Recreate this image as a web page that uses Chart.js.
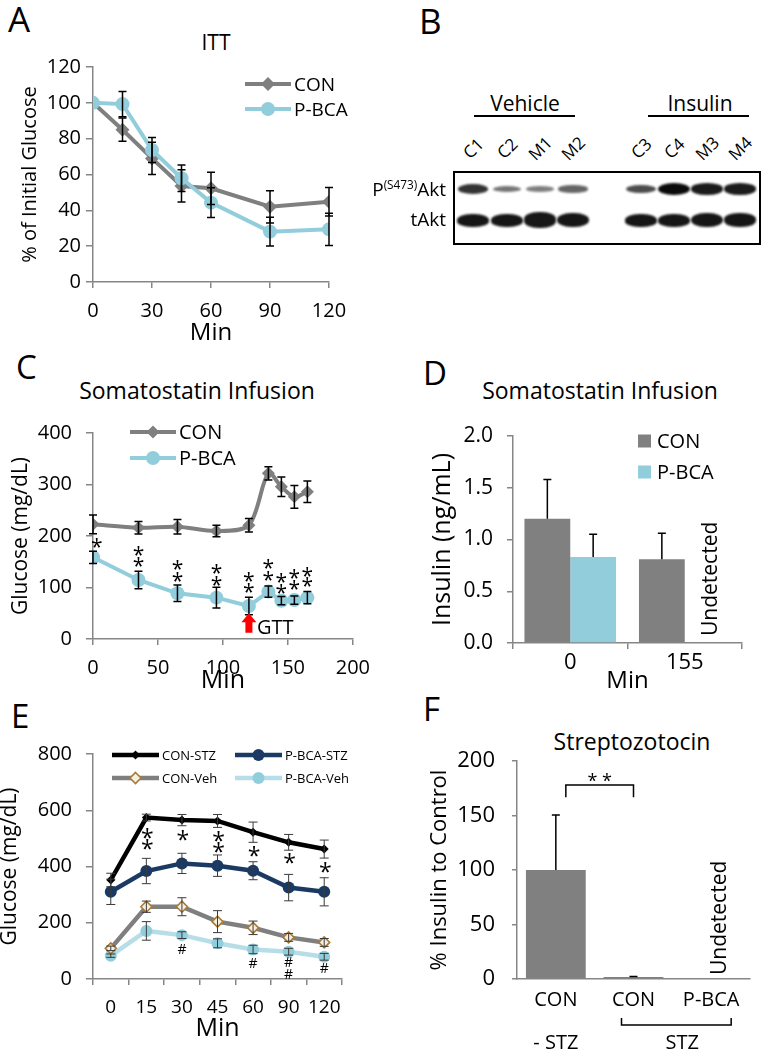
<!DOCTYPE html>
<html>
<head>
<meta charset="utf-8">
<title>ITT, Akt blot, somatostatin and streptozotocin panels</title>
<script src="https://cdn.jsdelivr.net/npm/chart.js@4.4.1/dist/chart.umd.min.js"></script>
<style>
  html, body { margin: 0; padding: 0; background: #fff; }
  body { position: relative; width: 762px; height: 1050px; overflow: hidden; font-family: 'Open Sans', sans-serif; color: #000; }
  canvas { position: absolute; }
  .lbl { position: absolute; white-space: nowrap; line-height: 1; }
  .lbl sup { font-size: 0.62em; vertical-align: 0.55em; }
  .blot { position: absolute; left: 453px; top: 171px; width: 304px; height: 70px; border: 2px solid #000; }
  .band { position: absolute; border-radius: 50%; filter: blur(1.2px); }
  .rule { position: absolute; height: 2px; background: #000; }
</style>
</head>
<body>
<script>
// ---- A: ITT ----
const ittMin = [0, 15, 30, 45, 60, 90, 120];
const ittCon = [100, 85, 69, 53.6, 52.3, 42, 44.8];
const ittConErr = [0, 6.5, 9, 9, 9, 9, 8];
const ittPbca = [100, 99.3, 73.7, 57.9, 44.3, 28.1, 29.4];
const ittPbcaErr = [0, 7, 7, 7.4, 8.3, 8, 9];

// ---- B: western blot ----
const lanes = ['C1', 'C2', 'M1', 'M2', 'C3', 'C4', 'M3', 'M4'];
const pAkt = [0.75, 0.35, 0.3, 0.45, 0.6, 1, 0.9, 0.9];
const tAkt = [1, 1, 1.2, 1.1, 1, 1, 1.15, 1.05];

// ---- C: somatostatin infusion, glucose ----
const ssMin = [0, 35, 65, 95, 120, 135, 145, 155, 165];
const ssCon = [222.6, 216, 218, 209.7, 221, 321.7, 295.8, 276, 286];
const ssConErr = [18, 12, 14, 11, 13, 13, 19, 22, 21];
const ssPbca = [158.6, 114.6, 88.7, 80.3, 64, 92, 74.4, 75.7, 80.3];
const ssPbcaErr = [12, 17, 16, 20, 17, 11, 8, 8, 12];
const ssStarMin = [3, 35, 65, 95, 120, 135, 145, 155, 165];
const ssStarY = [[186], [171, 150], [144, 121], [136, 113], [121, 100], [145, 123], [118, 97], [126, 104], [131, 110]];
const gttMin = 120;
const gttArrow = [12, 50];

// ---- D: somatostatin infusion, insulin ----
const insMin = ['0', '155'];
const insCon = [1.2, 0.81];
const insConErr = [0.38, 0.25];
const insPbca = [0.83, null];
const insPbcaErr = [0.22, null];

// ---- E: STZ glucose ----
const stzMin = ['0', '15', '30', '45', '60', '90', '120'];
const conStz = [352, 574, 565, 562, 522, 486, 462];
const conStzErr = [24, 12, 20, 23, 36, 28, 32];
const pbcaStz = [310, 384, 411, 403, 385, 325, 310];
const pbcaStzErr = [45, 45, 36, 38, 32, 47, 50];
const conVeh = [109, 257, 257, 204, 182, 148, 130];
const conVehErr = [8, 20, 32, 39, 24, 14, 14];
const pbcaVeh = [83, 171, 156, 127, 105, 97, 79];
const pbcaVehErr = [6, 33, 12, 16, 15, 12, 12];
const stzStarIdx = [1, 2, 3, 4, 5, 6];
const stzStarY = [[518, 479], [510], [506, 467], [453], [427], [396]];
const stzHashIdx = [2, 4, 5, 6];
const stzHashY = [[107], [56], [62, 17], [38]];

// ---- F: streptozotocin insulin ----
const stzGroups = ['CON', 'CON', 'P-BCA'];
const stzInsulin = [100, 1.8, null];
const stzInsulinErr = [50.5, 0.6, null];
const sigBracket = [166.7, 178];

// ---- styles ----
const AX = '#868686';
const GRAY = '#7f7f7f';
const AQUA = '#92cddc';
const NAVY = '#1b3a63';
const PALE = '#b7dee8';
Chart.defaults.font.family = "'Open Sans', sans-serif";
Chart.defaults.color = '#000';

function label(html, x, y, size, align, rotate) {
  const d = document.createElement('div');
  d.className = 'lbl';
  d.innerHTML = html;
  d.style.fontSize = size + 'px';
  d.style.left = x + 'px';
  d.style.top = y + 'px';
  const tx = align === 'left' ? '0' : align === 'right' ? '-100%' : '-50%';
  d.style.transform = `translate(${tx}, -50%)` + (rotate ? ` rotate(${rotate}deg)` : '');
  document.body.appendChild(d);
  return d;
}

function ctext(ctx, text, x, y, size, align) {
  ctx.save();
  ctx.font = size + "px 'Open Sans', sans-serif";
  ctx.fillStyle = '#000';
  ctx.textAlign = align || 'center';
  ctx.textBaseline = 'alphabetic';
  const m = ctx.measureText(text);
  ctx.fillText(text, x, y + (m.actualBoundingBoxAscent - m.actualBoundingBoxDescent) / 2);
  ctx.restore();
}

function rtext(ctx, text, x, yBottom, size) {
  ctx.save();
  ctx.translate(x, yBottom);
  ctx.rotate(-Math.PI / 2);
  ctext(ctx, text, 0, 0, size, 'left');
  ctx.restore();
}

function marker(ctx, style, x, y, r, fill, stroke, lw) {
  ctx.beginPath();
  if (style === 'circle') {
    ctx.arc(x, y, r, 0, Math.PI * 2);
  } else {
    ctx.moveTo(x, y - r); ctx.lineTo(x + r, y); ctx.lineTo(x, y + r); ctx.lineTo(x - r, y); ctx.closePath();
  }
  ctx.fillStyle = fill;
  ctx.fill();
  if (lw) { ctx.strokeStyle = stroke; ctx.lineWidth = lw; ctx.stroke(); }
}

function lineKey(ctx, ds, pos, len, text, size) {
  const [x, y] = pos;
  ctx.save();
  ctx.strokeStyle = ds.borderColor;
  ctx.lineWidth = ds.borderWidth;
  ctx.beginPath(); ctx.moveTo(x, y); ctx.lineTo(x + len, y); ctx.stroke();
  marker(ctx, ds.pointStyle, x + len / 2, y, ds.pointRadius, ds.pointBackgroundColor, ds.pointBorderColor, ds.pointBorderWidth);
  ctx.restore();
  ctext(ctx, text, x + len + 3, y, size, 'left');
}

const errorBars = {
  id: 'errorBars',
  afterDatasetsDraw(chart) {
    const ctx = chart.ctx;
    chart.data.datasets.forEach((ds, i) => {
      if (!ds.err) return;
      const meta = chart.getDatasetMeta(i);
      const ys = chart.scales[meta.yAxisID];
      ctx.save();
      ctx.strokeStyle = ds.errColor || '#000';
      ctx.lineWidth = ds.errWidth || 1.5;
      meta.data.forEach((el, j) => {
        const e = ds.err[j];
        const raw = ds.data[j];
        const v = raw !== null && typeof raw === 'object' ? raw.y : raw;
        if (!e || v === null || v === undefined) return;
        const x = el.x;
        const yTop = ys.getPixelForValue(v + e);
        const yBot = ds.errUpOnly ? ys.getPixelForValue(v) : ys.getPixelForValue(v - e);
        const cap = (ds.capWidth || 8) / 2;
        ctx.beginPath();
        ctx.moveTo(x, yTop); ctx.lineTo(x, yBot);
        ctx.moveTo(x - cap, yTop); ctx.lineTo(x + cap, yTop);
        if (!ds.errUpOnly) { ctx.moveTo(x - cap, yBot); ctx.lineTo(x + cap, yBot); }
        ctx.stroke();
      });
      ctx.restore();
    });
  }
};

function axisStyle(tickLen, size, pad, tickColor) {
  return {
    border: { color: AX, width: 1.5 },
    grid: { drawOnChartArea: false, drawTicks: true, tickLength: tickLen, color: AX, tickColor: tickColor || AX, lineWidth: 1.5 },
    ticks: { font: { size: size }, padding: pad, color: '#000', maxRotation: 0, minRotation: 0, autoSkip: false }
  };
}

function panel(box, area, cfg, extra) {
  const cv = document.createElement('canvas');
  cv.width = box.w; cv.height = box.h;
  cv.style.left = box.x + 'px'; cv.style.top = box.y + 'px';
  document.body.appendChild(cv);
  const o = cfg.options;
  o.responsive = false; o.animation = false; o.devicePixelRatio = 1;
  o.layout = { padding: { left: 0, bottom: 0, top: area.t - box.y, right: box.x + box.w - area.r } };
  o.scales.x.afterFit = s => { s.height = box.y + box.h - area.b; };
  o.scales.y.afterFit = s => { s.width = area.l - box.x; };
  o.plugins = Object.assign({ legend: { display: false }, tooltip: { enabled: false } }, o.plugins || {});
  cfg.plugins = [errorBars, {
    id: 'extras',
    afterDraw(chart) { if (extra) extra(chart, chart.ctx, (px, py) => [px - box.x, py - box.y]); }
  }];
  return new Chart(cv, cfg);
}

const pts = (xs, ys) => xs.map((x, i) => ({ x: x, y: ys[i] }));

// ---------- panel letters and titles ----------
label('A', 8, 18, 35, 'left');
label('B', 419, 20, 35, 'left');
label('C', 16, 366, 33, 'left');
label('D', 423, 372, 33, 'left');
label('E', 11, 715, 33, 'left');
label('F', 423, 708, 33, 'left');
label('ITT', 216, 42, 21);
label('Somatostatin Infusion', 197, 390, 23);
label('Somatostatin Infusion', 600, 390, 23);
label('Streptozotocin', 632, 741, 23);

// ---------- A ----------
{
  const x = axisStyle(6, 20, 11);
  x.type = 'linear'; x.min = 0; x.max = 120; x.ticks.stepSize = 30;
  x.title = { display: true, text: 'Min', font: { size: 24 }, padding: { top: 0, bottom: 2 } };
  const y = axisStyle(7, 20, 5);
  y.min = 0; y.max = 120; y.ticks.stepSize = 20;
  y.title = { display: true, text: '% of Initial Glucose', font: { size: 20 }, padding: { top: 18, bottom: 0 } };
  panel({ x: 0, y: 0, w: 381, h: 350 }, { l: 93, t: 67, r: 329, b: 282 }, {
    type: 'line',
    data: { datasets: [
      { label: 'CON', order: 2, data: pts(ittMin, ittCon), err: ittConErr, borderColor: GRAY, borderWidth: 4,
        pointStyle: 'rectRot', pointRadius: 7, pointBackgroundColor: GRAY, pointBorderColor: GRAY, pointBorderWidth: 0, tension: 0 },
      { label: 'P-BCA', order: 1, data: pts(ittMin, ittPbca), err: ittPbcaErr, borderColor: AQUA, borderWidth: 4,
        pointStyle: 'circle', pointRadius: 7, pointBackgroundColor: AQUA, pointBorderColor: AQUA, pointBorderWidth: 0, tension: 0 }
    ] },
    options: { scales: { x: x, y: y } }
  }, (chart, ctx, P) => {
    lineKey(ctx, chart.data.datasets[0], P(245, 84), 46, 'CON', 19);
    lineKey(ctx, chart.data.datasets[1], P(245, 109), 46, 'P-BCA', 19);
  });
}

// ---------- B (blot) ----------
{
  const box = document.createElement('div');
  box.className = 'blot';
  document.body.appendChild(box);
  const laneX = [473, 507, 540, 573, 641, 674, 707, 740];
  lanes.forEach((name, i) => {
    label(name, laneX[i], 148, 17, 'center', -45);
    const p = document.createElement('div');
    p.className = 'band';
    const ph = 3 + 9 * pAkt[i], pw = 27 + 5 * pAkt[i];
    const g = Math.round(175 - 165 * pAkt[i]);
    Object.assign(p.style, { left: (laneX[i] - pw / 2) + 'px', top: (189 - ph / 2) + 'px', width: pw + 'px', height: ph + 'px', background: `rgb(${g},${g},${g})` });
    document.body.appendChild(p);
    const t = document.createElement('div');
    t.className = 'band';
    const th = 13 * tAkt[i], tw = 32;
    Object.assign(t.style, { left: (laneX[i] - tw / 2) + 'px', top: (220 - th / 2) + 'px', width: tw + 'px', height: th + 'px', background: '#161616', borderRadius: '45%' });
    document.body.appendChild(t);
  });
  label('Vehicle', 525, 103, 21);
  label('Insulin', 700, 103, 21);
  const r1 = document.createElement('div'); r1.className = 'rule';
  Object.assign(r1.style, { left: '474px', top: '115px', width: '101px' }); document.body.appendChild(r1);
  const r2 = document.createElement('div'); r2.className = 'rule';
  Object.assign(r2.style, { left: '648px', top: '115px', width: '101px' }); document.body.appendChild(r2);
  label('P<sup>(S473)</sup>Akt', 446, 189, 19, 'right');
  label('tAkt', 446, 219, 19, 'right');
}

// ---------- C ----------
{
  const x = axisStyle(6, 20, 11);
  x.type = 'linear'; x.min = 0; x.max = 200; x.ticks.stepSize = 50;
  x.title = { display: true, text: 'Min', font: { size: 25 }, padding: { top: 0, bottom: 4 } };
  const y = axisStyle(7, 20, 14);
  y.min = 0; y.max = 400; y.ticks.stepSize = 100;
  y.title = { display: true, text: 'Glucose (mg/dL)', font: { size: 21 }, padding: { top: 8, bottom: 0 } };
  panel({ x: 0, y: 350, w: 381, h: 350 }, { l: 93, t: 433, r: 353, b: 639 }, {
    type: 'line',
    data: { datasets: [
      { label: 'CON', order: 2, data: pts(ssMin, ssCon), err: ssConErr, borderColor: GRAY, borderWidth: 4,
        pointStyle: 'rectRot', pointRadius: 6.5, pointBackgroundColor: GRAY, pointBorderColor: GRAY, pointBorderWidth: 0, tension: 0.3 },
      { label: 'P-BCA', order: 1, data: pts(ssMin, ssPbca), err: ssPbcaErr, borderColor: AQUA, borderWidth: 4,
        pointStyle: 'circle', pointRadius: 7, pointBackgroundColor: AQUA, pointBorderColor: AQUA, pointBorderWidth: 0, tension: 0 }
    ] },
    options: { scales: { x: x, y: y } }
  }, (chart, ctx, P) => {
    const xs = chart.scales.x, ys = chart.scales.y;
    ssStarY.forEach((vals, i) => vals.forEach(v => ctext(ctx, '*', xs.getPixelForValue(ssStarMin[i]), ys.getPixelForValue(v), 21)));
    const ax = xs.getPixelForValue(gttMin);
    const yTip = ys.getPixelForValue(gttArrow[1]), yBase = ys.getPixelForValue(gttArrow[0]);
    ctx.save();
    ctx.fillStyle = '#ff0000';
    ctx.beginPath();
    ctx.moveTo(ax - 3.5, yBase); ctx.lineTo(ax + 3.5, yBase); ctx.lineTo(ax + 3.5, yTip + 9);
    ctx.lineTo(ax + 7.5, yTip + 9); ctx.lineTo(ax, yTip); ctx.lineTo(ax - 7.5, yTip + 9); ctx.lineTo(ax - 3.5, yTip + 9);
    ctx.closePath(); ctx.fill();
    ctx.restore();
    ctext(ctx, 'GTT', ax + 8, ys.getPixelForValue(24), 20, 'left');
    lineKey(ctx, chart.data.datasets[0], P(130, 432), 46, 'CON', 20);
    lineKey(ctx, chart.data.datasets[1], P(130, 458), 46, 'P-BCA', 20);
  });
}

// ---------- D ----------
{
  const x = axisStyle(6, 22, 1);
  x.type = 'category';
  x.title = { display: true, text: 'Min', font: { size: 24 }, padding: { top: 0, bottom: 4 } };
  const y = axisStyle(6, 21, 14);
  y.min = 0; y.max = 2; y.ticks.stepSize = 0.5; y.ticks.callback = v => v.toFixed(1);
  y.title = { display: true, text: 'Insulin (ng/mL)', font: { size: 25 }, padding: { top: 47, bottom: 0 } };
  panel({ x: 381, y: 350, w: 381, h: 350 }, { l: 513, t: 436, r: 742, b: 643 }, {
    type: 'bar',
    data: { labels: insMin, datasets: [
      { label: 'CON', data: insCon, err: insConErr, errUpOnly: true, backgroundColor: '#808080', categoryPercentage: 0.8, barPercentage: 1 },
      { label: 'P-BCA', data: insPbca, err: insPbcaErr, errUpOnly: true, backgroundColor: AQUA, categoryPercentage: 0.8, barPercentage: 1 }
    ] },
    options: { scales: { x: x, y: y } }
  }, (chart, ctx, P) => {
    const el = chart.getDatasetMeta(0).data[1];
    rtext(ctx, 'Undetected', el.x + el.width + 1, chart.scales.y.getPixelForValue(0) - 7, 21);
    const k1 = P(638, 441), k2 = P(638, 472);
    ctx.fillStyle = '#808080'; ctx.fillRect(k1[0], k1[1] - 6.5, 13, 13);
    ctx.fillStyle = AQUA; ctx.fillRect(k2[0], k2[1] - 6.5, 13, 13);
    ctext(ctx, 'CON', k1[0] + 19, k1[1], 20, 'left');
    ctext(ctx, 'P-BCA', k2[0] + 19, k2[1], 20, 'left');
  });
}

// ---------- E ----------
{
  const x = axisStyle(6, 19, 11);
  x.type = 'category'; x.offset = true; x.grid.offset = true;
  x.title = { display: true, text: 'Min', font: { size: 25 }, padding: { top: 0, bottom: 6 } };
  const y = axisStyle(7, 20, 14);
  y.min = 0; y.max = 800; y.ticks.stepSize = 200;
  y.title = { display: true, text: 'Glucose (mg/dL)', font: { size: 21 }, padding: { top: 1.4, bottom: 0 } };
  const common = { borderWidth: 4.5, tension: 0, errColor: '#3a3a3a', errWidth: 1, capWidth: 9 };
  panel({ x: -4, y: 700, w: 385, h: 350 }, { l: 93, t: 754, r: 342, b: 979 }, {
    type: 'line',
    data: { labels: stzMin, datasets: [
      Object.assign({ label: 'CON-STZ', data: conStz, err: conStzErr, borderColor: '#000',
        pointStyle: 'rectRot', pointRadius: 4.5, pointBackgroundColor: '#000', pointBorderColor: '#000', pointBorderWidth: 0 }, common),
      Object.assign({ label: 'P-BCA-STZ', data: pbcaStz, err: pbcaStzErr, borderColor: NAVY,
        pointStyle: 'circle', pointRadius: 6, pointBackgroundColor: NAVY, pointBorderColor: NAVY, pointBorderWidth: 0 }, common),
      Object.assign({ label: 'CON-Veh', data: conVeh, err: conVehErr, borderColor: GRAY,
        pointStyle: 'rectRot', pointRadius: 5.5, pointBackgroundColor: '#f4efe6', pointBorderColor: '#a87b35', pointBorderWidth: 1.6 }, common),
      Object.assign({ label: 'P-BCA-Veh', data: pbcaVeh, err: pbcaVehErr, borderColor: PALE,
        pointStyle: 'circle', pointRadius: 6, pointBackgroundColor: AQUA, pointBorderColor: AQUA, pointBorderWidth: 0 }, common)
    ] },
    options: { scales: { x: x, y: y } }
  }, (chart, ctx, P) => {
    const xs = chart.scales.x, ys = chart.scales.y;
    stzStarY.forEach((vals, i) => vals.forEach(v => ctext(ctx, '*', xs.getPixelForValue(stzStarIdx[i]) + 1, ys.getPixelForValue(v), 23)));
    stzHashY.forEach((vals, i) => vals.forEach(v => ctext(ctx, '#', xs.getPixelForValue(stzHashIdx[i]), ys.getPixelForValue(v), 14)));
    const ds = chart.data.datasets;
    lineKey(ctx, ds[0], P(112, 755), 47, 'CON-STZ', 13);
    lineKey(ctx, ds[1], P(235, 755), 47, 'P-BCA-STZ', 13);
    lineKey(ctx, ds[2], P(112, 778), 47, 'CON-Veh', 13);
    lineKey(ctx, ds[3], P(235, 778), 47, 'P-BCA-Veh', 13);
  });
}

// ---------- F ----------
{
  const x = axisStyle(6, 20, 3, 'rgba(0,0,0,0)');
  x.type = 'category';
  const y = axisStyle(5, 22, 17);
  y.min = 0; y.max = 200; y.ticks.stepSize = 50;
  y.title = { display: true, text: '% Insulin to Control', font: { size: 22 }, padding: { top: 46, bottom: 0 } };
  panel({ x: 381, y: 700, w: 381, h: 350 }, { l: 517, t: 761, r: 750, b: 979 }, {
    type: 'bar',
    data: { labels: stzGroups, datasets: [
      { label: '% Insulin', data: stzInsulin, err: stzInsulinErr, errUpOnly: true, backgroundColor: '#808080', categoryPercentage: 0.77, barPercentage: 1 }
    ] },
    options: { scales: { x: x, y: y } }
  }, (chart, ctx, P) => {
    const xs = chart.scales.x, ys = chart.scales.y;
    const x0 = xs.getPixelForValue(0) + 10, x1 = xs.getPixelForValue(1);
    const yLow = ys.getPixelForValue(sigBracket[0]), yHigh = ys.getPixelForValue(sigBracket[1]);
    ctx.save();
    ctx.strokeStyle = '#000'; ctx.lineWidth = 1.5;
    ctx.beginPath();
    ctx.moveTo(x0, yLow); ctx.lineTo(x0, yHigh); ctx.lineTo(x1, yHigh); ctx.lineTo(x1, yLow);
    ctx.stroke();
    const bl = xs.getPixelForValue(1) - 12, br = xs.getPixelForValue(2) + 20;
    const [, by] = P(0, 1025), [, bt] = P(0, 1018);
    ctx.beginPath();
    ctx.moveTo(bl, bt); ctx.lineTo(bl, by); ctx.lineTo(br, by); ctx.lineTo(br, bt);
    ctx.stroke();
    ctx.restore();
    ctext(ctx, '* *', (x0 + x1) / 2, ys.getPixelForValue(185), 18);
    const [, sy] = P(0, 1042);
    ctext(ctx, '- STZ', xs.getPixelForValue(0), sy, 20);
    ctext(ctx, 'STZ', (bl + br) / 2 + 6, sy, 20);
    rtext(ctx, 'Undetected', xs.getPixelForValue(2) + 7, ys.getPixelForValue(0) - 4, 21);
  });
}
</script>
</body>
</html>
